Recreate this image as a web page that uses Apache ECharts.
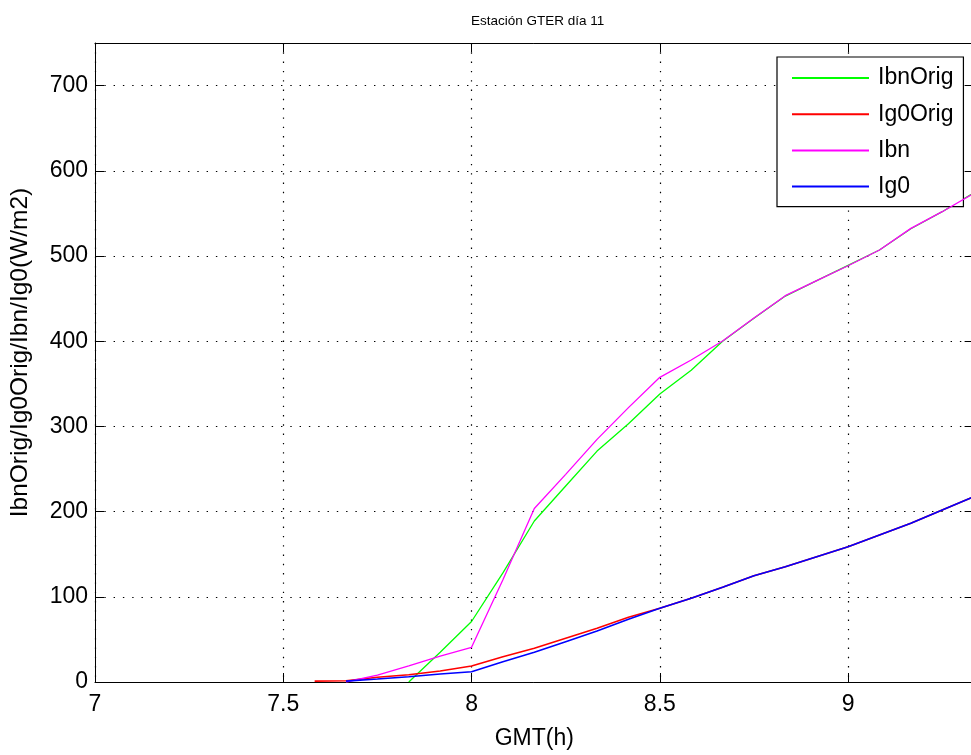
<!DOCTYPE html>
<html>
<head>
<meta charset="utf-8">
<script src="https://cdn.jsdelivr.net/npm/echarts@6/dist/echarts.min.js"></script>
<style>
html,body{margin:0;padding:0;background:#fff;}
#chart{width:971px;height:755px;}
</style>
</head>
<body>
<div id="chart"></div>
<script>
// GMT hours (5-minute steps)
const times = [7.5833, 7.6667, 7.75, 7.8333, 7.9167, 8.0, 8.0833, 8.1667, 8.25, 8.3333, 8.4167,
               8.5, 8.5833, 8.6667, 8.75, 8.8333, 8.9167, 9.0, 9.0833, 9.1667, 9.25, 9.3333];
const ibnOrig = [null, null, null, 0, 35, 71, 128, 189, 230, 271, 303,
                 338, 366, 400, 427, 453, 471, 489, 507, 532, 552, 574];
const ig0Orig = [1, 1.5, 5.5, 8.6, 12.9, 18.8, 29.7, 39.5, 51.3, 63, 75.9,
                 86.5, 98.2, 111.1, 124.8, 135.3, 147, 158.8, 172.5, 186.2, 201.9, 217.5];
const ibn = [null, 0, 8.2, 18.8, 30.5, 40.7, 120, 203.6, 243.7, 284.8, 322,
             357.6, 377.9, 400.2, 427.2, 453.4, 471, 488.6, 507, 532.4, 552, 573.5];
const ig0 = [null, 1, 3.5, 6.2, 9.4, 12.1, 23.8, 34.8, 47.3, 59.9, 73.6,
             86.5, 98.2, 111.1, 124.8, 135.3, 147, 158.8, 172.5, 186.2, 201.9, 217.5];
const seriesNames = ['IbnOrig', 'Ig0Orig', 'Ibn', 'Ig0'];
const xTicks = [7, 7.5, 8, 8.5, 9];
const yTicks = [0, 100, 200, 300, 400, 500, 600, 700];

const FONT = "'Liberation Sans', Arial, sans-serif";
const pairs = vals => times.map((t, i) => [t, vals[i]]);

const chart = echarts.init(document.getElementById('chart'), null, {renderer: 'canvas'});

const dotted = {show: true, lineStyle: {color: '#000', width: 1.2, type: [1.4, 7.9]}};
const tickStyle = {show: true, inside: true, length: 9, lineStyle: {color: '#000', width: 1}};
const lineAxis = {show: true, onZero: false, lineStyle: {color: '#000', width: 1}};

function xFmt(v) { return xTicks.some(t => Math.abs(t - v) < 1e-6) ? String(v) : ''; }
function yFmt(v) { return yTicks.some(t => Math.abs(t - v) < 1e-6) ? String(v) : ''; }

const colors = ['#00ff00', '#ff0000', '#ff00ff', '#0000ff'];
const widths = [1.3, 1.6, 1.3, 1.6];
const data = [ibnOrig, ig0Orig, ibn, ig0];

const option = {
  animation: false,
  backgroundColor: '#fff',
  title: {
    text: 'Estación GTER día 11',
    left: 466, top: 9,
    textStyle: {fontFamily: FONT, fontSize: 13.5, fontWeight: 'normal', color: '#000'}
  },
  legend: {
    orient: 'vertical',
    left: 777, top: 57,
    padding: [9, 10, 8, 15],
    itemGap: 12.2,
    itemWidth: 81, itemHeight: 2,
    icon: 'path://M0,0H77V2H0ZM81,0L81,2',
    itemStyle: {borderWidth: 0},
    backgroundColor: '#fff',
    borderColor: '#000', borderWidth: 1.2, borderRadius: 0,
    selectedMode: false,
    textStyle: {fontFamily: FONT, fontSize: 23, color: '#000', lineHeight: 24},
    data: seriesNames
  },
  grid: {left: 95, top: 43, width: 878.6, height: 639, containLabel: false, outerBoundsMode: 'none'},
  xAxis: [{
    type: 'value', min: 7, max: 9.3333, interval: 0.5, position: 'bottom',
    name: 'GMT(h)', nameLocation: 'middle', nameGap: 45,
    nameTextStyle: {fontFamily: FONT, fontSize: 23, color: '#000'},
    axisLine: lineAxis, axisTick: tickStyle,
    axisLabel: {fontFamily: FONT, fontSize: 23, color: '#000', margin: 11, formatter: xFmt, showMaxLabel: false, hideOverlap: false},
    splitLine: dotted
  }, {
    type: 'value', min: 7, max: 9.3333, interval: 0.5, position: 'top',
    axisLine: lineAxis, axisTick: tickStyle,
    axisLabel: {show: false}, splitLine: {show: false}
  }],
  yAxis: [{
    type: 'value', min: 0, max: 750, interval: 100, position: 'left',
    name: 'IbnOrig/Ig0Orig/Ibn/Ig0(W/m2)', nameLocation: 'middle', nameGap: 62, nameRotate: 90,
    nameTextStyle: {fontFamily: FONT, fontSize: 24.5, color: '#000', padding: [0, 0, 0, 20]},
    axisLine: lineAxis, axisTick: tickStyle,
    axisLabel: {fontFamily: FONT, fontSize: 23, color: '#000', margin: 7, formatter: yFmt, showMaxLabel: false, hideOverlap: false},
    splitLine: dotted
  }, {
    type: 'value', min: 0, max: 750, interval: 100, position: 'right',
    axisLine: lineAxis, axisTick: tickStyle,
    axisLabel: {show: false}, splitLine: {show: false}
  }],
  series: seriesNames.map((name, i) => ({
    name: name,
    type: 'line',
    xAxisIndex: 0, yAxisIndex: 0,
    data: pairs(data[i]),
    showSymbol: false,
    symbol: 'none',
    connectNulls: false,
    color: colors[i],
    itemStyle: {color: colors[i]},
    lineStyle: {color: colors[i], width: widths[i]},
    z: 2 + i
  }))
};
chart.setOption(option);
</script>
</body>
</html>
